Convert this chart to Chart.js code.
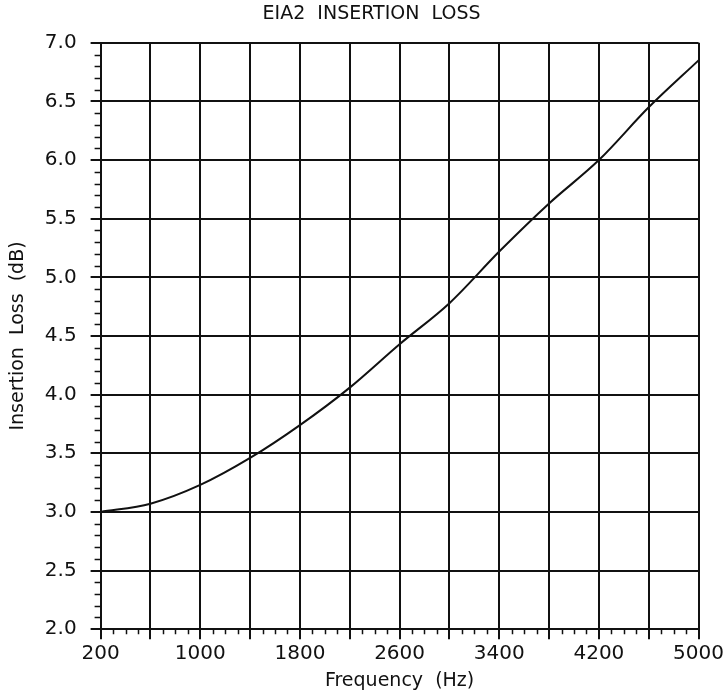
<!DOCTYPE html>
<html lang="en">
<head>
    <meta charset="UTF-8">
    <title>EIA2 Insertion Loss</title>
    <script src="https://cdn.jsdelivr.net/npm/chart.js"></script>
    <style>
        html, body { margin: 0; padding: 0; background: #fff; }
        #wrap { width: 727px; height: 694px; }
    </style>
</head>
<body>
    <div id="wrap"><canvas id="lossChart"></canvas></div>

    <script>
        // Insertion loss of the EIA2 line, read every 400 Hz
        const freqHz = [200, 600, 1000, 1400, 1800, 2200, 2600, 3000, 3400, 3800, 4200, 4600, 5000];
        const lossDb = [3.00, 3.07, 3.23, 3.46, 3.74, 4.06, 4.43, 4.78, 5.22, 5.63, 6.00, 6.45, 6.85];

        const xMin = 200, xMax = 5000, xGrid = 400, xLabelStep = 800, xMinor = 100;
        const yMin = 2.0, yMax = 7.0, yGrid = 0.5, yMinor = 0.1;

        const ink = '#111';
        const font = 'DejaVu Sans';

        // short ruler marks between the grid lines
        const minorTicks = {
            id: 'minorTicks',
            afterDraw(chart) {
                const { ctx, chartArea: a, scales: { x, y } } = chart;
                ctx.save();
                ctx.strokeStyle = ink;
                ctx.lineWidth = 1.5;
                ctx.beginPath();
                for (let f = xMin; f <= xMax; f += xMinor) {
                    if ((f - xMin) % xGrid === 0) continue;
                    const px = Math.round(x.getPixelForValue(f)) + 0.5;
                    ctx.moveTo(px, a.bottom);
                    ctx.lineTo(px, a.bottom + 5);
                }
                for (let i = 0; i <= Math.round((yMax - yMin) / yMinor); i++) {
                    if (i % 5 === 0) continue;
                    const py = Math.round(y.getPixelForValue(yMin + i * yMinor)) + 0.5;
                    ctx.moveTo(a.left - 6, py);
                    ctx.lineTo(a.left, py);
                }
                ctx.stroke();
                ctx.restore();
            }
        };

        const ctx = document.getElementById('lossChart').getContext('2d');
        new Chart(ctx, {
            type: 'line',
            data: {
                datasets: [{
                    data: freqHz.map((f, i) => ({ x: f, y: lossDb[i] })),
                    borderColor: ink,
                    borderWidth: 2,
                    pointRadius: 0,
                    fill: false,
                    cubicInterpolationMode: 'monotone'
                }]
            },
            options: {
                responsive: true,
                maintainAspectRatio: false,
                animation: false,
                layout: { padding: { left: 4, right: 0, top: 0, bottom: 2 } },
                plugins: {
                    legend: { display: false },
                    tooltip: { enabled: false },
                    title: {
                        display: true,
                        text: '  EIA2  INSERTION  LOSS',
                        color: ink,
                        font: { family: font, size: 19, weight: 'normal' },
                        padding: { top: 3, bottom: 17 }
                    }
                },
                scales: {
                    x: {
                        type: 'linear',
                        min: xMin,
                        max: xMax,
                        grid: { color: ink, lineWidth: 2, tickLength: 10, tickColor: ink, tickWidth: 2 },
                        border: { color: ink, width: 2 },
                        ticks: {
                            stepSize: xGrid,
                            autoSkip: false,
                            maxRotation: 0,
                            padding: 3,
                            color: ink,
                            font: { family: font, size: 20 },
                            callback: v => ((v - xMin) % xLabelStep === 0 ? String(v) : '')
                        },
                        title: {
                            display: true,
                            text: 'Frequency  (Hz)',
                            color: ink,
                            font: { family: font, size: 19 },
                            padding: { top: 0, bottom: 0 }
                        }
                    },
                    y: {
                        min: yMin,
                        max: yMax,
                        grid: { color: ink, lineWidth: 2, tickLength: 10, tickColor: ink, tickWidth: 2 },
                        border: { color: ink, width: 2 },
                        ticks: {
                            stepSize: yGrid,
                            padding: 14,
                            color: ink,
                            font: { family: font, size: 20 },
                            callback: v => v.toFixed(1)
                        },
                        title: {
                            display: true,
                            text: 'Insertion  Loss  (dB)',
                            color: ink,
                            font: { family: font, size: 19 },
                            padding: { top: 3, bottom: 1 }
                        }
                    }
                }
            },
            plugins: [minorTicks]
        });
    </script>
</body>
</html>
